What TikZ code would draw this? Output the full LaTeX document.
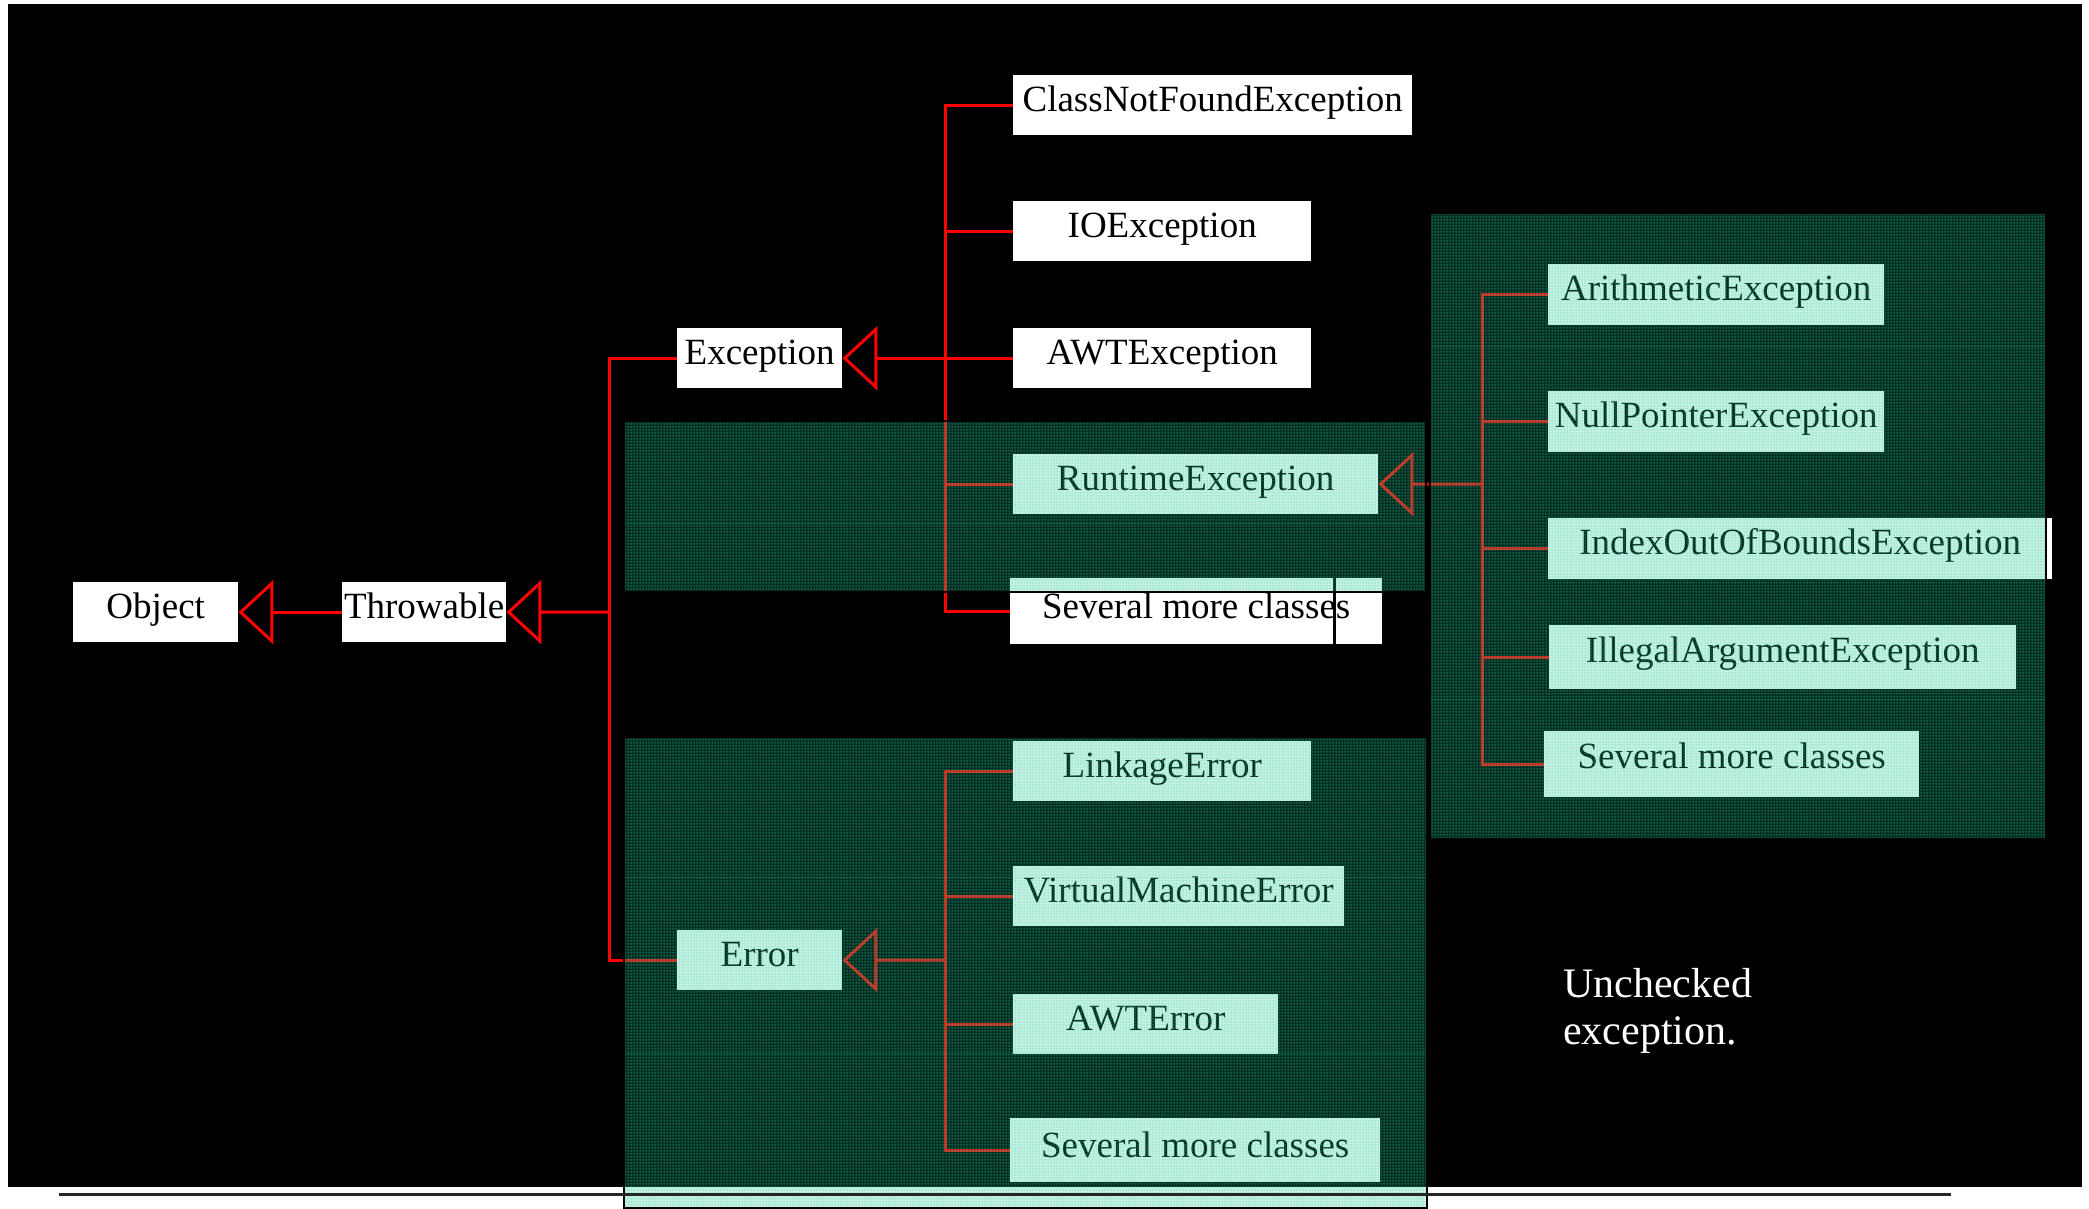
\documentclass[tikz,border=0pt]{standalone}
\usepackage{fontspec}
\setmainfont{Liberation Serif}
\usetikzlibrary{arrows.meta,patterns}

% fine screen texture used for the shaded groups
\pgfdeclarepatternformonly{finegrid}{\pgfqpoint{0pt}{0pt}}{\pgfqpoint{3pt}{3pt}}{\pgfqpoint{3pt}{3pt}}{%
  \pgfsetlinewidth{0.8pt}%
  \pgfpathmoveto{\pgfqpoint{0pt}{1.5pt}}\pgfpathlineto{\pgfqpoint{3pt}{1.5pt}}%
  \pgfpathmoveto{\pgfqpoint{1.5pt}{0pt}}\pgfpathlineto{\pgfqpoint{1.5pt}{3pt}}%
  \pgfusepath{stroke}}

\definecolor{tealshade}{RGB}{25,190,140}
\definecolor{tealgrid}{RGB}{40,220,160}

\begin{document}
\begin{tikzpicture}[x=1pt,y=-1pt,
  box/.style={rectangle, fill=white, anchor=north west, inner sep=0pt,
    text height=36pt, text depth=24pt, text=black,
    font=\fontsize{37}{44}\selectfont},
  link/.style={draw=red, line width=3pt},
  inherit/.style={link, -{Triangle[open, length=35pt, width=64pt]}},
  note/.style={anchor=base west, inner sep=0pt, text=white,
    font=\fontsize{42}{47}\selectfont}
]
\useasboundingbox (0,0) rectangle (2089,1208);
\fill[white] (0,0) rectangle (2089,1208);
\fill[black] (8,4) rectangle (2082,1187);

% classes
\node[box, minimum width=165pt] (obj) at (73,582)  {Object};
\node[box, minimum width=164pt] (thr) at (342,582) {Throwable};
\node[box, minimum width=165pt] (exc) at (677,328) {Exception};
\node[box, minimum width=165pt] (err) at (677,930) {Error};

\node[box, minimum width=399pt] (cnf) at (1013,75)  {ClassNotFoundException};
\node[box, minimum width=298pt] (ioe) at (1013,201) {IOException};
\node[box, minimum width=298pt] (awt) at (1013,328) {AWTException};
\node[box, minimum width=365pt] (rte) at (1013,454) {RuntimeException};
\node[box, minimum width=372pt, text height=40pt, text depth=26pt] (sme) at (1010,578) {Several more classes};

\node[box, minimum width=298pt] (lnk) at (1013,741) {LinkageError};
\node[box, minimum width=331pt] (vme) at (1013,866) {VirtualMachineError};
\node[box, minimum width=265pt] (awe) at (1013,994) {AWTError};
\node[box, minimum width=370pt, text height=39pt, text depth=25pt] (smr) at (1010,1118) {Several more classes};

\node[box, minimum width=336pt, text height=36pt, text depth=25pt] (ari) at (1548,264) {ArithmeticException};
\node[box, minimum width=336pt, text height=36pt, text depth=25pt] (npe) at (1548,391) {NullPointerException};
\node[box, minimum width=504pt, text height=36pt, text depth=25pt] (iob) at (1548,518) {IndexOutOfBoundsException};
\node[box, minimum width=467pt, text height=37pt, text depth=27pt] (iae) at (1549,625) {IllegalArgumentException};
\node[box, minimum width=375pt, text height=37pt, text depth=29pt] (smx) at (1544,731) {Several more classes};

% branch points
\coordinate (tr)  at (609,612);
\coordinate (eb)  at (945,358);
\coordinate (rb)  at (945,960);
\coordinate (rtb) at (1482,484);

% inheritance connectors
\draw[inherit] (thr.west) -- (obj.east);
\draw[inherit] (tr) -- (thr.east);
\draw[link] (exc.west) -| (tr) |- (err.west);

\draw[inherit] (awt.west) -- (exc.east);
\foreach \c in {cnf,ioe,rte,sme} \draw[link] (\c.west) -| (eb);

\draw[inherit] (rb) -- (err.east);
\foreach \c in {lnk,vme,awe,smr} \draw[link] (\c.west) -| (rb);

\draw[inherit] (rtb) -- (rte.east);
\foreach \c in {ari,npe,iob,iae,smx} \draw[link] (\c.west) -| (rtb);

% stray rule across the lower box
\draw[black, line width=3pt] (1334,578) -- (1334,644);

% shaded groups of unchecked classes
\foreach \a/\b/\c/\d in {624/421/1426/592, 1430/213/2046/839, 624/737/1427/1208} {
  \fill[tealshade, fill opacity=0.22] (\a,\b) rectangle (\c,\d);
  \fill[pattern=finegrid, pattern color=tealgrid, fill opacity=0.45] (\a,\b) rectangle (\c,\d);
}
% faint seams between screen tiles
\foreach \a/\b/\c in {624/523/1426, 1430/346/2046, 1430/699/2046, 624/877/1427, 624/1053/1427}
  \draw[tealgrid, opacity=0.18, line width=1pt] (\a,\b) -- (\c,\b);
\foreach \a/\b/\c/\d in {624/421/1426/592, 1430/213/2046/839, 624/737/1427/1208}
  \draw[black, line width=2.5pt] (\a,\b) rectangle (\c,\d);

% bottom rule
\draw[black!85, line width=3pt] (59,1194) -- (1951,1194);

% caption
\node[note] (unc1) at (1563,997)  {Unchecked};
\node[note] (unc2) at (1563,1044) {exception.};
\end{tikzpicture}
\end{document}
